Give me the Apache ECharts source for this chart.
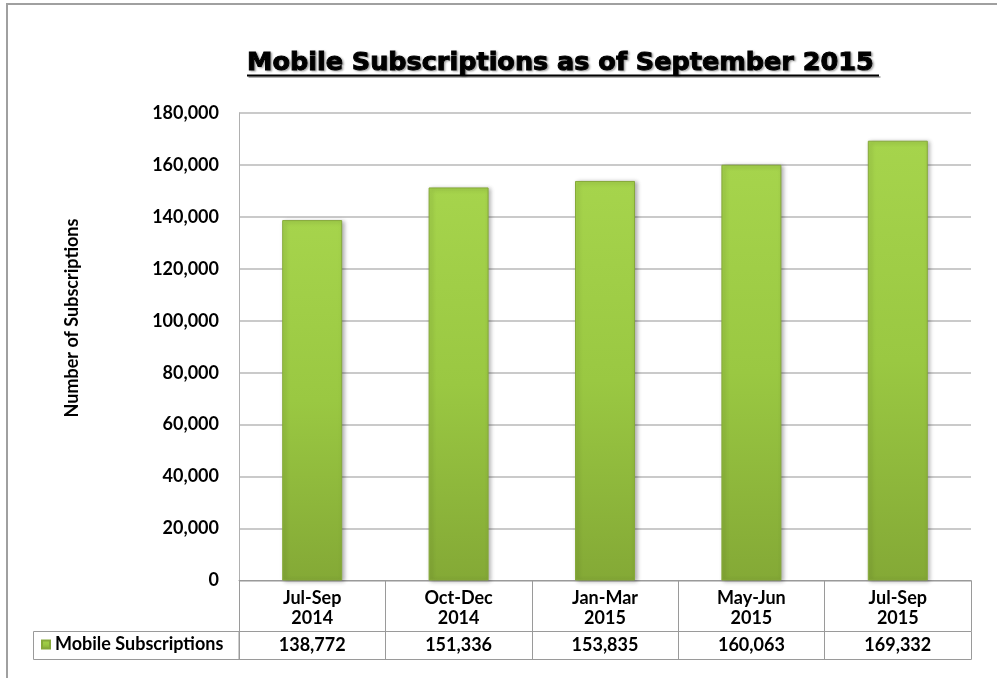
<!DOCTYPE html>
<html>
<head>
<meta charset="utf-8">
<script src="https://cdn.jsdelivr.net/npm/echarts@6/dist/echarts.min.js"></script>
<style>html,body{margin:0;padding:0;background:#fff}#c{width:997px;height:678px}</style>
</head>
<body>
<div id="c"></div>
<script>
const titleText = 'Mobile Subscriptions as of September 2015';
const seriesName = 'Mobile Subscriptions';
const yAxisName = 'Number of Subscriptions';
const categories = ['Jul-Sep\n2014', 'Oct-Dec\n2014', 'Jan-Mar\n2015', 'May-Jun\n2015', 'Jul-Sep\n2015'];
const subscriptions = [138772, 151336, 153835, 160063, 169332];
const yMin = 0, yMax = 180000, yStep = 20000;

function fmt(v) { return String(v).replace(/\B(?=(\d{3})+(?!\d))/g, ','); }

const GL = 239, GR = 997 - 971, GT = 113, GB = 678 - 580.5;
const ROW1 = 51, ROW2 = 28;
const FONT = 'Lato, "Noto Sans", sans-serif';
const FS = 18;
const border = '#9a9a9a';

const chart = echarts.init(document.getElementById('c'), null, { renderer: 'canvas' });
const bottomY = 678 - GB;

chart.setOption({
  animation: false,
  backgroundColor: '#fff',
  title: {
    text: titleText,
    left: 242, top: 45,
    textStyle: {
      fontFamily: '"DejaVu Sans", sans-serif', fontWeight: 'bold', fontSize: 25.5, color: '#000',
      textBorderColor: '#000', textBorderWidth: 1,
      textShadowColor: 'rgba(0,0,0,0.3)', textShadowBlur: 2, textShadowOffsetX: 1.5, textShadowOffsetY: 1.5
    }
  },
  legend: {
    left: 41, top: bottomY + ROW1 + 4, padding: 0,
    icon: 'rect', itemWidth: 8, itemHeight: 8,
    textStyle: { fontFamily: FONT, fontWeight: 'bold', fontSize: FS, color: '#000' },
    data: [seriesName], selectedMode: false
  },
  grid: { left: GL, right: GR, top: GT, bottom: GB, containLabel: false, outerBoundsMode: 'none' },
  xAxis: [
    {
      type: 'category', data: categories, position: 'bottom',
      axisLine: { show: true, lineStyle: { color: border, width: 1 } },
      axisTick: { show: true, length: ROW1, interval: 0, lineStyle: { color: border } },
      axisLabel: { interval: 0, margin: 8, fontFamily: FONT, fontWeight: 'bold', fontSize: FS, lineHeight: 20, color: '#000' },
      splitLine: { show: false }
    },
    {
      type: 'category', data: categories, position: 'bottom', offset: ROW1,
      axisLine: { show: true, lineStyle: { color: border, width: 1 } },
      axisTick: { show: true, length: ROW2, interval: 0, lineStyle: { color: border } },
      axisLabel: { interval: 0, margin: 4, fontFamily: FONT, fontWeight: 'bold', fontSize: FS, lineHeight: 20, color: '#000',
        formatter: function (v, i) { return fmt(subscriptions[i]); } },
      splitLine: { show: false }
    },
    {
      type: 'category', data: categories, position: 'bottom', offset: ROW1 + ROW2,
      axisLine: { show: true, lineStyle: { color: border, width: 1 } },
      axisTick: { show: false }, axisLabel: { show: false }, splitLine: { show: false }
    }
  ],
  yAxis: {
    type: 'value', min: yMin, max: yMax, interval: yStep,
    axisLine: { show: true, lineStyle: { color: '#b0b0b0', width: 1 } },
    axisTick: { show: false },
    splitLine: { show: true, lineStyle: { color: '#b8b8b8', width: 1.5 } },
    axisLabel: { margin: 20, fontFamily: FONT, fontWeight: 'bold', fontSize: FS, color: '#000', formatter: fmt }
  },
  series: [{
    name: seriesName, type: 'bar', data: subscriptions, barWidth: 60, xAxisIndex: 0,
    itemStyle: {
      color: new echarts.graphic.LinearGradient(0, 0, 0, 1, [
        { offset: 0, color: '#a6d44c' }, { offset: 0.5, color: '#9ac842' }, { offset: 1, color: '#84a936' }
      ]),
      borderColor: '#86a93a', borderWidth: 1,
      shadowColor: 'rgba(0,0,0,0.3)', shadowBlur: 4, shadowOffsetX: 2, shadowOffsetY: 1
    }
  }],
  graphic: [
    { type: 'polyline', shape: { points: [[7, 678], [7, 4], [997, 4]] }, style: { stroke: '#a0a0a0', lineWidth: 2, fill: null } },
    { type: 'rect', shape: { x: 33.5, y: bottomY + ROW1, width: GL - 33.5, height: ROW2 }, style: { stroke: border, lineWidth: 1, fill: null } },
    { type: 'line', shape: { x1: 247, y1: 75.5, x2: 879, y2: 75.5 }, style: { stroke: '#000', lineWidth: 2, shadowColor: 'rgba(0,0,0,0.3)', shadowOffsetX: 1.5, shadowOffsetY: 1.5 } },
    { type: 'text', x: 72, y: 318, rotation: Math.PI / 2,
      style: { text: yAxisName, x: 0, y: 0, align: 'center', verticalAlign: 'middle', font: 'bold 18px ' + FONT, fill: '#000' } }
  ]
});
</script>
</body>
</html>
